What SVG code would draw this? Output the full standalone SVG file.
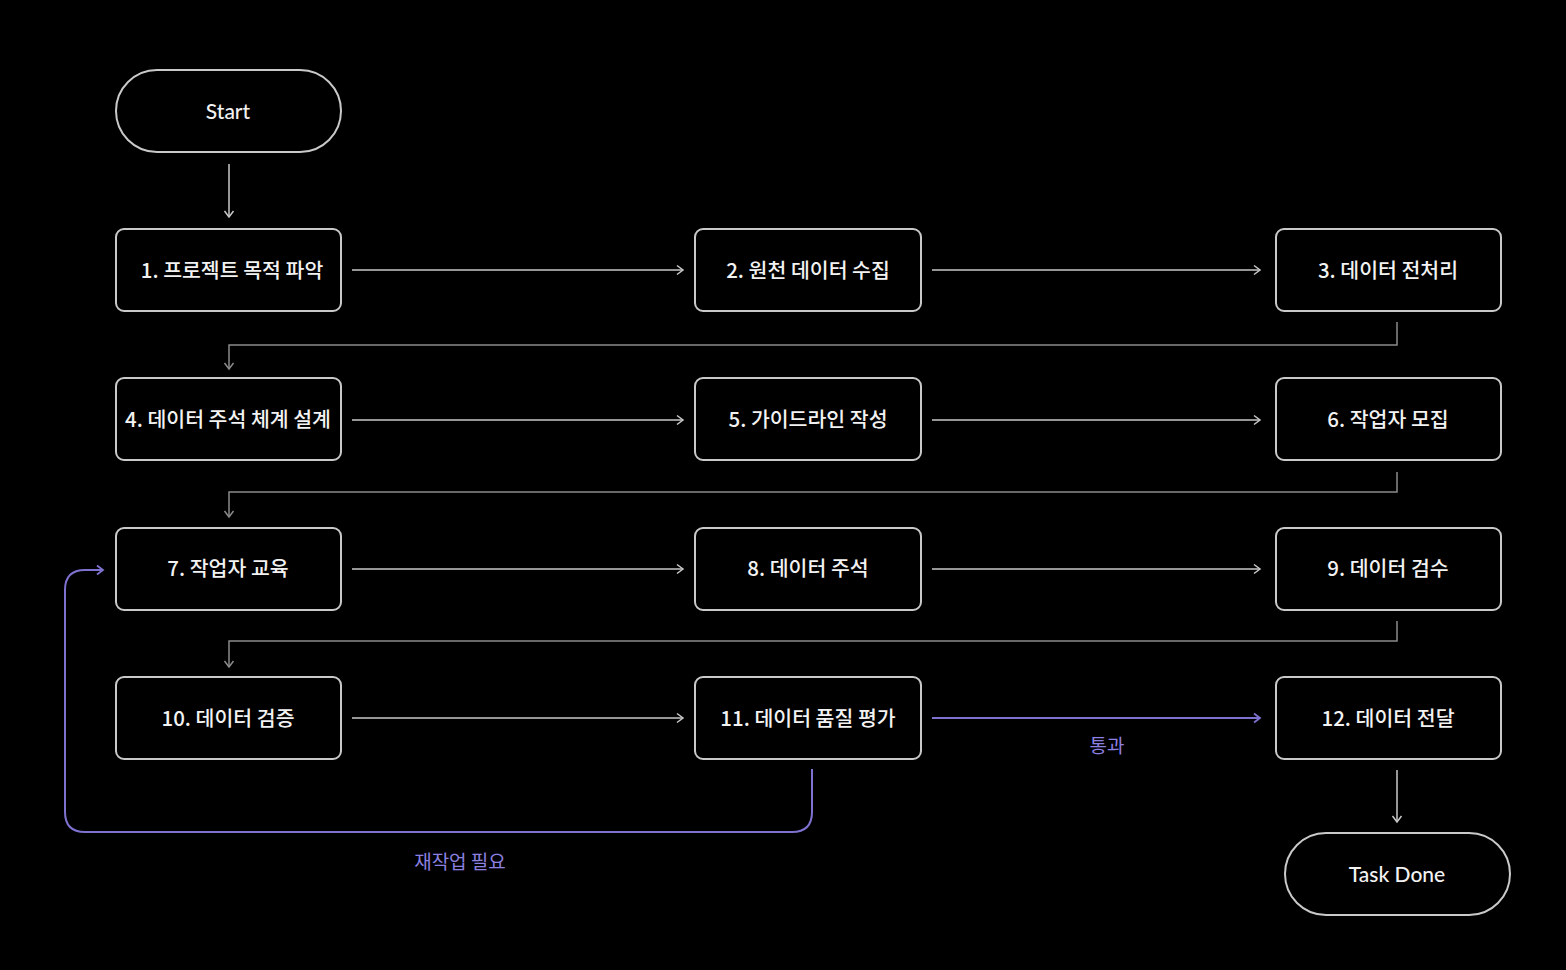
<svg xmlns="http://www.w3.org/2000/svg" width="1566" height="970" viewBox="0 0 1566 970">
<defs>
<marker id="ah" markerWidth="12" markerHeight="12" refX="9" refY="6" orient="auto" markerUnits="userSpaceOnUse"><path d="M3,1.5 L9,6 L3,10.5" fill="none" stroke="#c8c8c8" stroke-width="1.5"/></marker>
<marker id="ahd" markerWidth="12" markerHeight="12" refX="9" refY="6" orient="auto" markerUnits="userSpaceOnUse"><path d="M3,1.5 L9,6 L3,10.5" fill="none" stroke="#8a8a8a" stroke-width="1.5"/></marker>
<marker id="ahp" markerWidth="12" markerHeight="12" refX="9" refY="6" orient="auto" markerUnits="userSpaceOnUse"><path d="M3,1.5 L9,6 L3,10.5" fill="none" stroke="#7e72d0" stroke-width="1.8"/></marker>
<style>
.box{fill:#000;stroke:#c9c9c9;stroke-width:2}
.t{font-family:"Noto Sans CJK KR","Noto Sans",sans-serif;font-size:20.5px;font-weight:500;fill:#f2f2f2;text-anchor:middle;dominant-baseline:central}
.te{font-family:Lato,"Noto Sans",sans-serif;font-size:21px;font-weight:500;fill:#f2f2f2;text-anchor:middle;dominant-baseline:central}
.a{fill:none;stroke:#c8c8c8;stroke-width:1.5;marker-end:url(#ah)}
.d{fill:none;stroke:#8a8a8a;stroke-width:1.5;marker-end:url(#ahd)}
.p{fill:none;stroke:#7e72d0;stroke-width:2;marker-end:url(#ahp)}
.pl{font-family:"Noto Sans CJK KR",sans-serif;font-size:19px;fill:#8c80e0;text-anchor:middle;dominant-baseline:central}
</style>
</defs>
<rect width="1566" height="970" fill="#000"/>
<g id="connectors">
<path class="a" d="M229,164 V217"/>
<path class="a" d="M352,270 H683"/>
<path class="a" d="M932,270 H1260"/>
<path class="d" d="M1397,322 V345 H229 V369"/>
<path class="a" d="M352,420 H683"/>
<path class="a" d="M932,420 H1260"/>
<path class="d" d="M1397,472 V492 H229 V517"/>
<path class="a" d="M352,569 H683"/>
<path class="a" d="M932,569 H1260"/>
<path class="d" d="M1397,621 V641 H229 V667"/>
<path class="a" d="M352,718 H683"/>
<path class="p" d="M932,718 H1260"/>
<path class="a" d="M1397,770 V822"/>
<path class="p" d="M812,769 V812 Q812,832 792,832 H85 Q65,832 65,812 V590 Q65,570 85,570 H103"/>
<text class="pl" x="1107" y="744">통과</text>
<text class="pl" x="460" y="860">재작업 필요</text>
</g>
<g id="start"><rect class="box" x="116" y="70" width="225" height="82" rx="41"/><text class="te" x="228" y="110">Start</text></g>
<g id="n1"><rect class="box" x="116" y="229" width="225" height="82" rx="8"/><text class="t" x="232" y="269">1. 프로젝트 목적 파악</text></g>
<g id="n2"><rect class="box" x="695" y="229" width="226" height="82" rx="8"/><text class="t" x="808" y="269">2. 원천 데이터 수집</text></g>
<g id="n3"><rect class="box" x="1276" y="229" width="225" height="82" rx="8"/><text class="t" x="1388" y="269">3. 데이터 전처리</text></g>
<g id="n4"><rect class="box" x="116" y="378" width="225" height="82" rx="8"/><text class="t" x="228" y="418">4. 데이터 주석 체계 설계</text></g>
<g id="n5"><rect class="box" x="695" y="378" width="226" height="82" rx="8"/><text class="t" x="808" y="418">5. 가이드라인 작성</text></g>
<g id="n6"><rect class="box" x="1276" y="378" width="225" height="82" rx="8"/><text class="t" x="1388" y="418">6. 작업자 모집</text></g>
<g id="n7"><rect class="box" x="116" y="528" width="225" height="82" rx="8"/><text class="t" x="228" y="567">7. 작업자 교육</text></g>
<g id="n8"><rect class="box" x="695" y="528" width="226" height="82" rx="8"/><text class="t" x="808" y="567">8. 데이터 주석</text></g>
<g id="n9"><rect class="box" x="1276" y="528" width="225" height="82" rx="8"/><text class="t" x="1388" y="567">9. 데이터 검수</text></g>
<g id="n10"><rect class="box" x="116" y="677" width="225" height="82" rx="8"/><text class="t" x="228" y="717">10. 데이터 검증</text></g>
<g id="n11"><rect class="box" x="695" y="677" width="226" height="82" rx="8"/><text class="t" x="808" y="717">11. 데이터 품질 평가</text></g>
<g id="n12"><rect class="box" x="1276" y="677" width="225" height="82" rx="8"/><text class="t" x="1388" y="717">12. 데이터 전달</text></g>
<g id="done"><rect class="box" x="1285" y="833" width="225" height="82" rx="41"/><text class="te" x="1397" y="873">Task Done</text></g>
</svg>
